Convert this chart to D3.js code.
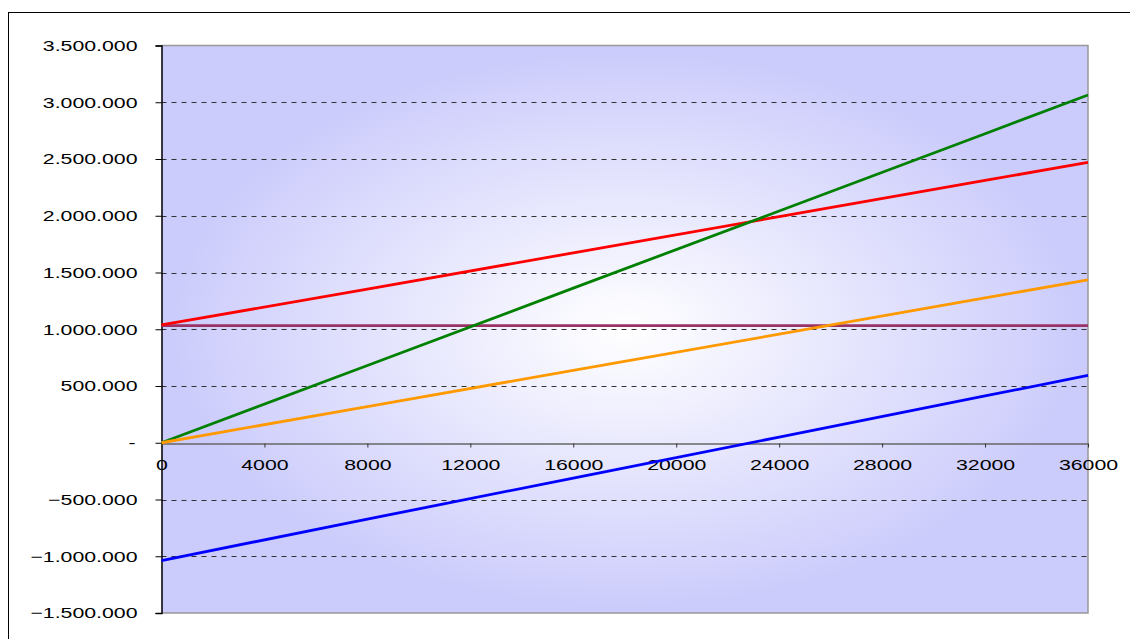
<!DOCTYPE html>
<html>
<head>
<meta charset="utf-8">
<script src="https://cdn.jsdelivr.net/npm/d3@7"></script>
<style>
  body { margin: 0; background: #fff; }
  svg { display: block; font-family: "Liberation Sans", Arial, sans-serif; }
</style>
</head>
<body>
<div id="chart"></div>
<script>
// units sold
var units = [0, 8000, 16000, 24000, 32000, 36000];
// series values
var fixedCost = [1032000, 1032000, 1032000, 1032000, 1032000, 1032000];
var variableCost = [0, 319000, 638000, 957000, 1276000, 1436000];
var totalCost = [1038000, 1354000, 1673000, 1992000, 2311000, 2471000];
var revenue = [0, 681000, 1362000, 2042000, 2723000, 3064000];
var profit = [-1038000, -673000, -311000, 50000, 412000, 593000];

var yTicks = [-1500000, -1000000, -500000, 0, 500000, 1000000, 1500000, 2000000, 2500000, 3000000, 3500000];
var xTicks = [0, 4000, 8000, 12000, 16000, 20000, 24000, 28000, 32000, 36000];

var series = [
    { name: "fixed", values: fixedCost, color: "#993366" },
    { name: "total", values: totalCost, color: "#ff0000" },
    { name: "revenue", values: revenue, color: "#008000" },
    { name: "variable", values: variableCost, color: "#ff9900" },
    { name: "profit", values: profit, color: "#0000ff" }
];

var width = 1130, height = 639;
var plot = { left: 161.5, top: 45.5, right: 1088, bottom: 613 };
// the original text is drawn wide, so stretch it sideways
var stretch = 1.42;

var svg = d3.select("#chart").append("svg")
    .attr("width", width)
    .attr("height", height);

// outer chart frame
svg.append("rect")
    .attr("x", 8.5).attr("y", 12.5)
    .attr("width", width).attr("height", height)
    .attr("fill", "#fff")
    .attr("stroke", "#000")
    .attr("stroke-width", 1);

var x = d3.scaleLinear().domain([0, 36000]).range([plot.left, plot.right]);
var y = d3.scaleLinear().domain([-1500000, 3500000]).range([plot.bottom, plot.top]);

// background gradient, white in the centre
var defs = svg.append("defs");
var grad = defs.append("radialGradient")
    .attr("id", "bg")
    .attr("cx", 0.5).attr("cy", 0.5).attr("r", 0.5);
grad.append("stop").attr("offset", "0%").attr("stop-color", "#ffffff");
grad.append("stop").attr("offset", "100%").attr("stop-color", "#cbcbfc");

svg.append("rect")
    .attr("x", plot.left).attr("y", plot.top)
    .attr("width", plot.right - plot.left)
    .attr("height", plot.bottom - plot.top)
    .attr("fill", "url(#bg)");

// dashed grid lines
svg.append("g")
    .selectAll("line")
    .data(yTicks.filter(d => d !== 0 && d !== 3500000 && d !== -1500000))
    .join("line")
    .attr("x1", plot.left).attr("x2", plot.right)
    .attr("y1", d => Math.round(y(d)) + 0.5)
    .attr("y2", d => Math.round(y(d)) + 0.5)
    .attr("stroke", "#333")
    .attr("stroke-width", 1)
    .attr("stroke-dasharray", "5,5");

// plot border (gray right/bottom/top)
svg.append("path")
    .attr("d", `M${plot.left},${plot.top}H${plot.right}V${plot.bottom}H${plot.left}`)
    .attr("fill", "none")
    .attr("stroke", "#999")
    .attr("stroke-width", 1.5);

// y axis
var fmt = d => d === 0 ? "-" : d3.format(",")(d).replace(/,/g, ".");
var yAxis = svg.append("g")
    .attr("transform", `translate(${plot.left},0)`)
    .call(d3.axisLeft(y).tickValues(yTicks).tickSize(6).tickPadding(18).tickFormat(fmt));
yAxis.select(".domain").attr("stroke", "#000").attr("stroke-width", 1.5);
yAxis.selectAll(".tick line").attr("stroke", "#000");
yAxis.selectAll("text")
    .attr("font-size", 15).attr("fill", "#000")
    .attr("font-family", "Liberation Sans, Arial, sans-serif")
    .attr("x", 0)
    .attr("transform", d => `translate(${d === 0 ? -26 : -24},0) scale(${stretch},1)`);

// x axis at zero
var xAxis = svg.append("g")
    .attr("transform", `translate(0,${Math.round(y(0)) + 0.5})`)
    .call(d3.axisBottom(x).tickValues(xTicks).tickSize(4).tickSizeOuter(0).tickPadding(12).tickFormat(d => d));
xAxis.select(".domain").attr("stroke", "#666").attr("stroke-width", 1.5);
xAxis.selectAll(".tick line").attr("stroke", "#333");
xAxis.selectAll("text")
    .attr("font-size", 15).attr("fill", "#000")
    .attr("font-family", "Liberation Sans, Arial, sans-serif")
    .attr("transform", `scale(${stretch},1)`);

// data lines
var line = d3.line()
    .x((d, i) => x(units[i]))
    .y(d => y(d));

svg.append("g")
    .selectAll("path")
    .data(series)
    .join("path")
    .attr("d", d => line(d.values))
    .attr("fill", "none")
    .attr("stroke", d => d.color)
    .attr("stroke-width", 2.8)
    .attr("stroke-linejoin", "round");
</script>
</body>
</html>
